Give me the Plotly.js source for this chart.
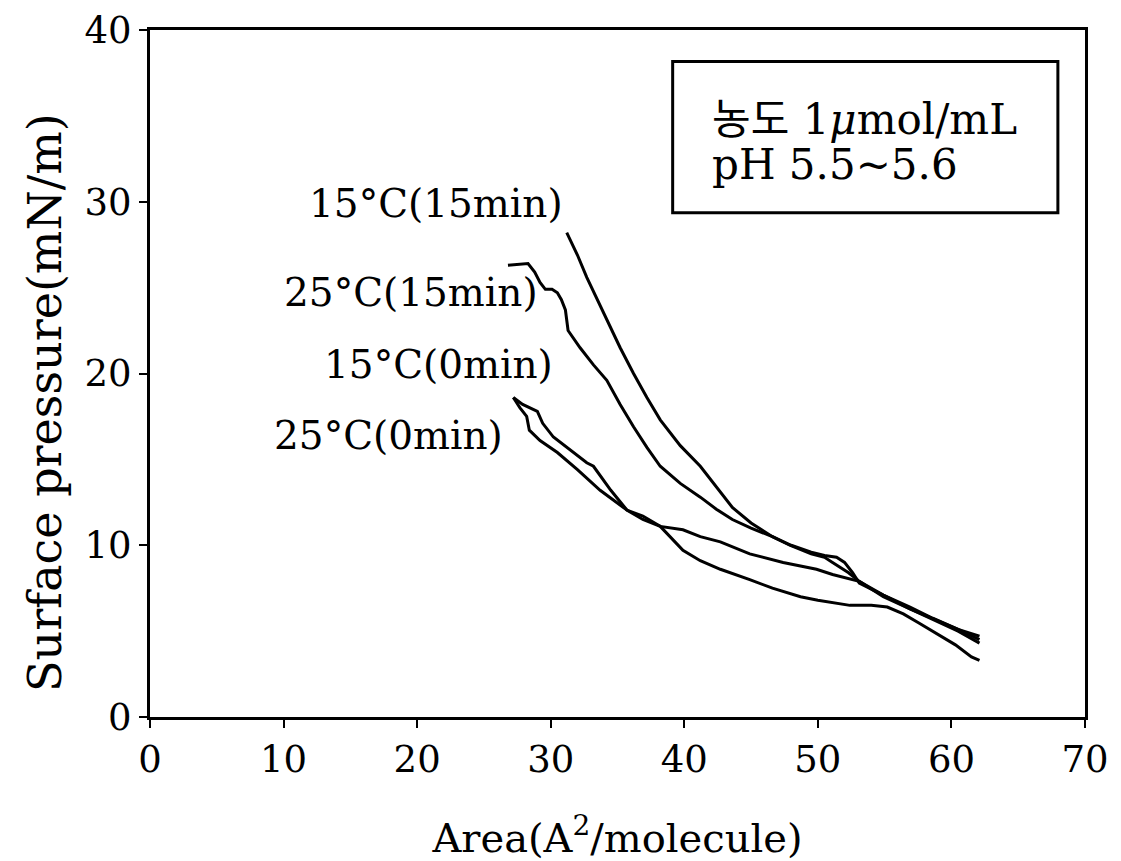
<!DOCTYPE html>
<html>
<head>
<meta charset="utf-8">
<script src="https://cdn.plot.ly/plotly-3.0.1.min.js"></script>
<style>html,body{margin:0;padding:0;background:#fff;}#chart{width:1121px;height:861px;}</style>
</head>
<body>
<div id="chart"></div>
<script>
// Series: area (A^2/molecule) and surface pressure (mN/m)
const c15_15_x = [31.2,32.0,32.7,33.5,34.2,35.2,36.2,37.2,38.2,39.7,41.2,42.5,43.6,45.0,46.6,48.0,49.5,50.5,51.4,52.0,52.6,53.1,54.9,56.9,58.6,60.5,62.1];
const c15_15_y = [28.2,26.9,25.6,24.3,23.1,21.5,20.0,18.6,17.3,15.8,14.6,13.3,12.2,11.3,10.5,10.0,9.6,9.4,9.3,9.0,8.4,7.8,7.1,6.4,5.75,5.1,4.7];

const c25_15_x = [26.8,28.3,28.8,29.2,29.6,30.1,30.5,30.8,31.1,31.3,32.2,33.2,34.2,35.2,36.2,37.2,38.2,39.7,41.2,42.4,43.6,45.0,46.6,47.9,49.5,50.5,51.1,52.3,53.1,54.9,56.9,58.6,60.5,62.1];
const c25_15_y = [26.3,26.4,25.9,25.3,24.9,24.9,24.7,24.3,23.7,22.5,21.5,20.5,19.6,18.2,16.9,15.7,14.6,13.6,12.8,12.1,11.5,11.0,10.5,10.0,9.5,9.3,9.0,8.4,7.9,7.0,6.3,5.7,5.0,4.3];

const c15_0_x = [27.2,27.9,29.0,29.4,30.2,31.2,32.7,33.2,34.5,35.7,36.9,38.2,39.4,39.9,41.2,42.7,44.9,46.6,48.7,50.0,52.4,54.0,55.2,56.4,57.5,58.6,60.3,61.5,62.1];
const c15_0_y = [18.6,18.2,17.8,17.1,16.3,15.7,14.8,14.6,13.2,12.05,11.5,11.1,10.1,9.7,9.1,8.6,8.0,7.5,7.0,6.8,6.5,6.5,6.4,6.0,5.5,5.0,4.2,3.5,3.3];

const c25_0_x = [27.2,27.7,28.2,28.4,29.2,30.5,32.0,33.7,35.7,36.9,38.2,39.9,41.2,42.7,44.9,47.4,49.9,51.1,53.1,54.9,56.9,58.6,60.5,62.1];
const c25_0_y = [18.6,18.0,17.5,16.7,16.1,15.4,14.4,13.2,12.05,11.7,11.1,10.9,10.5,10.2,9.5,9.0,8.6,8.3,7.9,7.1,6.3,5.75,5.1,4.5];

const seriesNames = ['15°C(15min)','25°C(15min)','15°C(0min)','25°C(0min)'];
const xTicks = [0,10,20,30,40,50,60,70];
const yTicks = [0,10,20,30,40];
const noteLines = ['농도 1<i>μ</i>mol/mL', 'pH 5.5~5.6'];

const FONT = 'DejaVu Serif, Liberation Serif, Noto Sans CJK KR, serif';
const lineStyle = {color:'#000', width:3};
const xs = [c15_15_x, c25_15_x, c15_0_x, c25_0_x];
const ys = [c15_15_y, c25_15_y, c15_0_y, c25_0_y];
const traces = xs.map((x,i)=>({x:x, y:ys[i], mode:'lines', type:'scatter', name:seriesNames[i], line:lineStyle, hoverinfo:'skip'}));

// label anchors (right end of each label) in data coordinates
const labelX = [31.1, 29.2, 30.3, 26.6];
const labelY = [29.9, 24.7, 20.5, 16.4];
const annotations = seriesNames.map((t,i)=>({x:labelX[i], y:labelY[i], xref:'x', yref:'y', text:t, showarrow:false, xanchor:'right', yanchor:'middle', font:{family:FONT, size:39, color:'#000'}}));
const noteY = [0.869, 0.8035];
noteLines.forEach((t,i)=>annotations.push({x:0.599, y:noteY[i], xref:'paper', yref:'paper', xanchor:'left', yanchor:'middle', align:'left', showarrow:false,
  text:t, font:{family:FONT, size:42, color:'#000'}}));
// y-axis title placed as rotated text
annotations.push({x:-0.1123, y:0.4585, xref:'paper', yref:'paper', xanchor:'center', yanchor:'middle', textangle:-90, showarrow:false,
  text:'Surface pressure(mN/m)', font:{family:FONT, size:46, color:'#000'}});

const layout = {
  width:1121, height:861,
  margin:{l:150, r:36, t:30, b:144},
  paper_bgcolor:'#fff', plot_bgcolor:'#fff',
  showlegend:false,
  font:{family:FONT, color:'#000'},
  xaxis:{range:[0,70], tickvals:xTicks, ticks:'outside', ticklen:8, tickwidth:2, tickcolor:'#000',
    showline:true, linewidth:3, linecolor:'#000', mirror:true, showgrid:false, zeroline:false,
    tickfont:{family:FONT, size:37, color:'#000'},
    title:{text:'Area(A<sup>2</sup>/molecule)', font:{family:FONT, size:40, color:'#000'}, standoff:44}},
  yaxis:{range:[0,40], tickvals:yTicks, ticks:'outside', ticklen:8, tickwidth:2, tickcolor:'#000',
    showline:true, linewidth:3, linecolor:'#000', mirror:true, showgrid:false, zeroline:false,
    tickfont:{family:FONT, size:37, color:'#000'}},
  shapes:[{type:'rect', xref:'paper', yref:'paper', x0:0.559, x1:0.971, y0:0.734, y1:0.954, line:{color:'#000', width:3}, fillcolor:'rgba(0,0,0,0)'}],
  annotations:annotations
};
Plotly.newPlot('chart', traces, layout, {staticPlot:true, displayModeBar:false});
</script>
</body>
</html>
